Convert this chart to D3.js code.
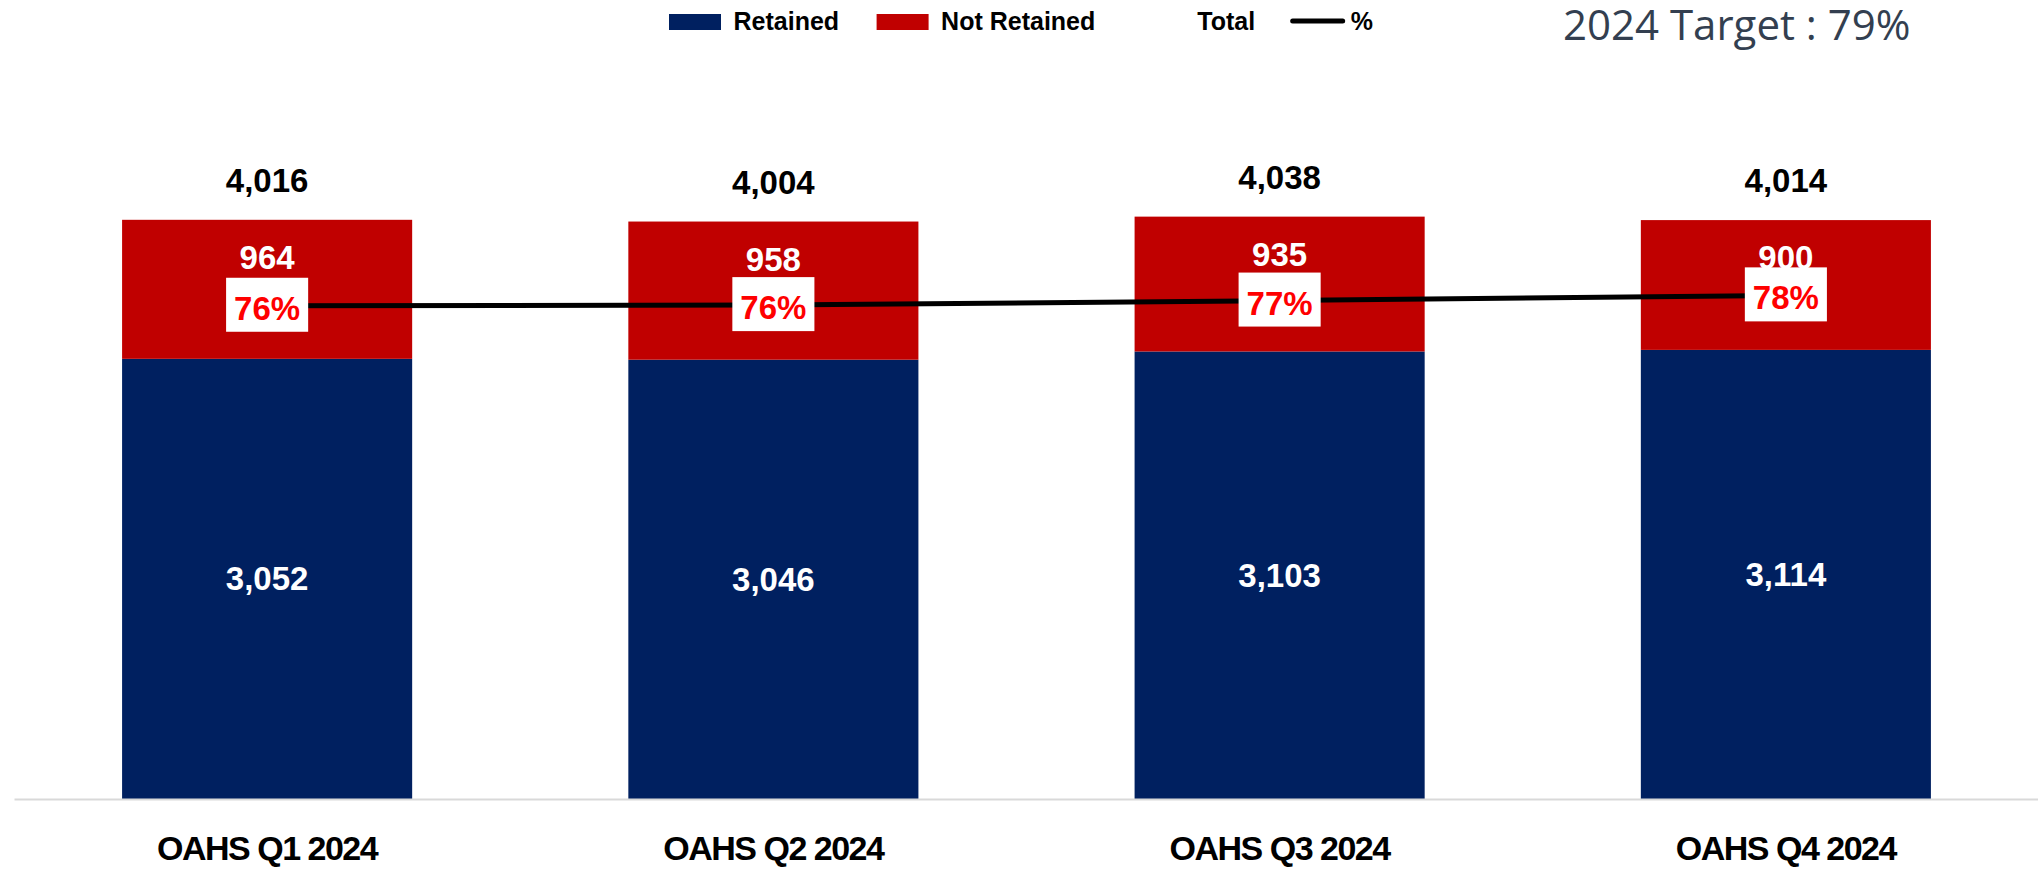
<!DOCTYPE html>
<html>
<head>
<meta charset="utf-8">
<script src="https://cdn.jsdelivr.net/npm/d3@7"></script>
<style>
  body { margin: 0; background: #fff; }
  svg { display: block; }
</style>
</head>
<body>
<script>
// Chart data
var categories  = ["OAHS Q1 2024", "OAHS Q2 2024", "OAHS Q3 2024", "OAHS Q4 2024"],
    retained    = [3052, 3046, 3103, 3114],
    notRetained = [964, 958, 935, 900],
    totals      = [4016, 4004, 4038, 4014],
    pct         = [0.760, 0.761, 0.768, 0.776],
    pctLabels   = ["76%", "76%", "77%", "78%"],
    legendItems = [
      {label: "Retained", type: "rect", color: "#002060"},
      {label: "Not Retained", type: "rect", color: "#C00000"},
      {label: "Total", type: "none", color: "none"},
      {label: "%", type: "line", color: "#000"}
    ],
    targetText = "2024 Target : 79%";

var canvas = {w: 2038, h: 869},
    plot = {left: 14, right: 2039, top: 150, bottom: 799};

var svg = d3.select("body").append("svg")
    .attr("width", canvas.w)
    .attr("height", canvas.h);

// table for the stack layout
var rows = categories.map(function(c, i) {
  return {cat: c, retained: retained[i], notRetained: notRetained[i], total: totals[i], pct: pct[i], pctLabel: pctLabels[i]};
});

var x = d3.scaleBand()
    .domain(categories)
    .range([plot.left, plot.right])
    .paddingInner(0.427)
    .paddingOuter(0.2135);

// primary axis 0 - 4500, secondary axis 0 - 100%
var y = d3.scaleLinear().domain([0, 4500]).range([plot.bottom, plot.top]),
    y2 = d3.scaleLinear().domain([0, 1]).range([plot.bottom, plot.top]);

var z = d3.scaleOrdinal().domain(["retained", "notRetained"]).range(["#002060", "#C00000"]);

var stacked = d3.stack().keys(["retained", "notRetained"])(rows);

// bars
var layer = svg.append("g").selectAll("g")
    .data(stacked)
    .enter().append("g")
    .attr("fill", function(d) { return z(d.key); });

layer.selectAll("rect")
    .data(function(d) { return d; })
    .enter().append("rect")
    .attr("x", function(d) { return x(d.data.cat); })
    .attr("y", function(d) { return y(d[1]); })
    .attr("width", x.bandwidth())
    .attr("height", function(d) { return y(d[0]) - y(d[1]); });

// x axis
var xAxis = svg.append("g")
    .attr("transform", "translate(0," + plot.bottom + ")")
    .call(d3.axisBottom(x).tickSize(0).tickPadding(37));
xAxis.select(".domain").attr("stroke", "#d9d9d9").attr("stroke-width", 2);
xAxis.selectAll("text")
    .attr("fill", "#000")
    .style("font", "bold 34px 'Liberation Sans', Arial, sans-serif")
    .style("letter-spacing", "-1.5px");

var cx = function(d) { return x(d.cat) + x.bandwidth() / 2; };

// value labels
var labelFont = "bold 33px 'Liberation Sans', Arial, sans-serif";

svg.append("g").selectAll("text")
    .data(rows)
    .enter().append("text")
    .attr("x", cx)
    .attr("y", function(d) { return (y(0) + y(d.retained)) / 2; })
    .attr("dy", "0.35em")
    .attr("text-anchor", "middle")
    .attr("fill", "#fff")
    .style("font", labelFont)
    .text(function(d) { return d3.format(",")(d.retained); });

svg.append("g").selectAll("text")
    .data(rows)
    .enter().append("text")
    .attr("x", cx)
    .attr("y", function(d) { return y(d.total) + 49; })
    .attr("text-anchor", "middle")
    .attr("fill", "#fff")
    .style("font", labelFont)
    .text(function(d) { return d3.format(",")(d.notRetained); });

svg.append("g").selectAll("text")
    .data(rows)
    .enter().append("text")
    .attr("x", cx)
    .attr("y", function(d) { return y(d.total) - 28; })
    .attr("text-anchor", "middle")
    .attr("fill", "#000")
    .style("font", labelFont)
    .text(function(d) { return d3.format(",")(d.total); });

// percent line
var line = d3.line()
    .x(cx)
    .y(function(d) { return y2(d.pct); });

svg.append("path")
    .datum(rows)
    .attr("fill", "none")
    .attr("stroke", "#000")
    .attr("stroke-width", 5)
    .attr("d", line);

// percent labels on white boxes
var pctG = svg.append("g").selectAll("g")
    .data(rows)
    .enter().append("g")
    .attr("transform", function(d) { return "translate(" + cx(d) + "," + (y2(d.pct) - 1) + ")"; });

var boxRect = pctG.append("rect").attr("fill", "#fff");
var pctText = pctG.append("text")
    .attr("y", 15)
    .attr("text-anchor", "middle")
    .attr("fill", "#FF0000")
    .style("font", labelFont)
    .text(function(d) { return d.pctLabel; });

pctText.each(function(d, i) {
  var w = this.getComputedTextLength() + 16;
  d3.select(boxRect.nodes()[i])
      .attr("x", -w / 2).attr("y", -27)
      .attr("width", w).attr("height", 54);
});

// legend
var legend = svg.append("g").attr("transform", "translate(669,0)"),
    lx = 0;

legendItems.forEach(function(item) {
  var textX = 64.5;
  if (item.type === "rect") {
    legend.append("rect").attr("x", lx).attr("y", 14).attr("width", 52).attr("height", 16).attr("fill", item.color);
  } else if (item.type === "line") {
    legend.append("line").attr("x1", lx).attr("x2", lx + 50).attr("y1", 21).attr("y2", 21)
        .attr("stroke", item.color).attr("stroke-width", 5).attr("stroke-linecap", "round");
    textX = 58;
  }
  var t = legend.append("text")
      .attr("x", lx + textX)
      .attr("y", 29.7)
      .attr("fill", "#000")
      .style("font", "bold 25px 'Liberation Sans', Arial, sans-serif")
      .text(item.label);
  lx += textX + t.node().getComputedTextLength() + 37.5;
});

// target note
svg.append("text")
    .attr("x", 1563)
    .attr("y", 39.5)
    .attr("fill", "#333F50")
    .style("font", "42px 'Open Sans', sans-serif")
    .text(targetText);
</script>
</body>
</html>
